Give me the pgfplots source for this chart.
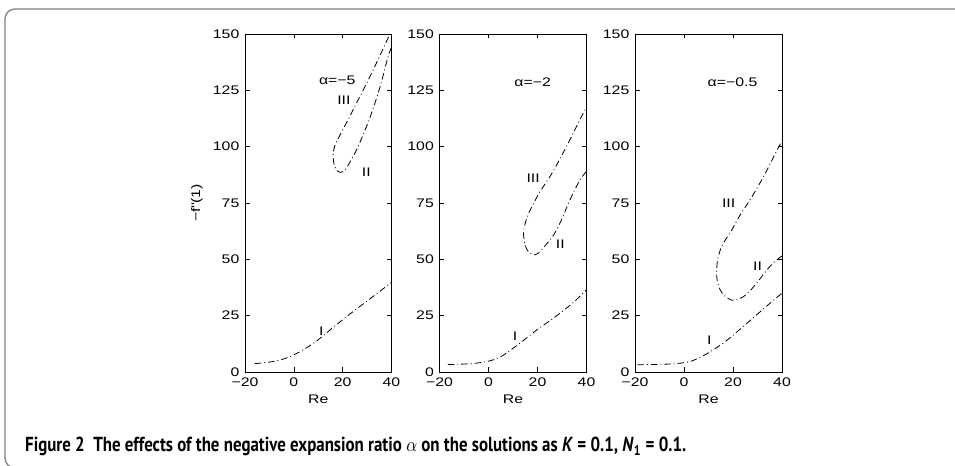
\documentclass[border=0pt]{standalone}
\usepackage{fontspec}
\usepackage{graphicx}
\usepackage{pgfplots}
\pgfplotsset{compat=1.18}
\newfontfamily\axfont[FakeStretch=1.27]{Liberation Sans}
\newfontfamily\capfont{PT Sans}
\newcommand\axf{\axfont\fontsize{12.5}{14}\selectfont}
\tikzset{
  lab/.style={font=\axf, inner sep=0pt, anchor=center},
  cur/.style={black, line width=0.8bp, dash pattern=on 6.5bp off 3bp on 0.9bp off 3bp, smooth, tension=0.5, mark=none},
}
\pgfplotsset{
  panel/.style={
    scale only axis, width=147bp, height=338bp, anchor=south west,
    xmin=-20, xmax=40, ymin=0, ymax=150,
    xtick={-20,0,20,40}, xticklabels={−20,0,20,40},
    ytick={0,25,50,75,100,125,150}, yticklabels={0,25,50,75,100,125,150},
    tick align=inside, major tick length=4.5bp,
    every tick/.style={black, line width=0.6bp},
    axis line style={black, line width=0.9bp},
    ticklabel style={font=\axf, inner sep=0pt},
    xticklabel style={anchor=north, yshift=-6bp},
    yticklabel style={anchor=east, xshift=-5.5bp},
    xlabel={Re},
    every axis x label/.style={at={(axis description cs:0.5,0)}, anchor=center, yshift=-27bp, font=\axf},
    clip=true,
  },
}
\begin{document}
\begin{tikzpicture}[x=1bp,y=1bp]
\useasboundingbox (0,0) rectangle (955,466);
\clip (0,0) rectangle (955,466);
\draw[black!50, line width=1.3bp, rounded corners=10bp] (970,457) -- (5,457) -- (5,-2) -- (40,-2);

% Panel 1: alpha = -5
\begin{axis}[panel, at={(245bp,94bp)}, width=146.5bp]
\addplot[cur] coordinates {(-16,3.7) (-10,4.4) (-5,5.5) (0,7.6) (5,10.6) (10,14.3) (15,18.8) (20,23.2) (25,27.4) (30,31.5) (35,35.6) (40,39.8)};
\addplot[cur] coordinates {(40,144) (38.6,140) (35.3,126.5) (31.2,113) (26.3,100) (23,93.2) (21,89.6) (19,88.6) (17.6,89.6) (16.4,92.5) (16.1,97) (17,101) (18.6,104.5) (22,111.5) (26,120) (30,128.5) (34,137.5) (38.5,148) (39.3,150)};
\node[lab] at (axis cs:17.8,129.6) {α=−5};
\node[lab] at (axis cs:20.5,120.5) {III};
\node[lab] at (axis cs:29.7,88.5) {II};
\node[lab] at (axis cs:11.3,18) {I};
\end{axis}

% Panel 2: alpha = -2
\begin{axis}[panel, at={(439.5bp,94bp)}]
\addplot[cur] coordinates {(-16.6,3.3) (-7,3.7) (0,4.8) (5,6.8) (10,10.5) (15,14.6) (20,18.9) (25,22.7) (30,26.8) (35,31.2) (40,36.5)};
\addplot[cur] coordinates {(40,89) (37.3,85.2) (33.2,76.3) (29.8,67.5) (26.4,60.5) (22.5,55.3) (20,52.5) (18.2,52) (16.2,53.5) (14.9,56.5) (14.3,61.5) (15,66) (16.4,70.4) (18.5,75) (21,80) (26.3,88.9) (32.5,101.5) (37.3,112) (40,117.5)};
\node[lab] at (axis cs:18,128.8) {α=−2};
\node[lab] at (axis cs:18.2,86) {III};
\node[lab] at (axis cs:29.3,56.5) {II};
\node[lab] at (axis cs:10.8,16) {I};
\end{axis}

% Panel 3: alpha = -0.5
\begin{axis}[panel, at={(635bp,94bp)}]
\addplot[cur] coordinates {(-19,3.2) (-10,3.4) (-5,3.6) (0,4.1) (3,4.8) (6,6.2) (9,7.9) (12,9.9) (16,12.8) (20,16.3) (25,21) (30,25.7) (35,30.4) (40,35)};
\addplot[cur] coordinates {(40,51.5) (37,49) (34,45.5) (31.5,42) (29,38.6) (26.5,35.5) (24.2,33.4) (22,32.2) (20.1,31.8) (18.4,32.4) (16.4,34) (14.7,36.6) (13.6,40.3) (13.3,44.5) (13.7,49.7) (14.6,53.5) (16,57.1) (19.5,63) (22.9,69.7) (26.9,76.3) (31.7,85.2) (35,92) (37.5,97.5) (40,102.5)};
\node[lab] at (axis cs:19.8,128.8) {α=−0.5};
\node[lab] at (axis cs:18.2,75) {III};
\node[lab] at (axis cs:30,47) {II};
\node[lab] at (axis cs:10.3,14) {I};
\end{axis}

\node[rotate=90, font=\axf, inner sep=0pt] at (197,263) {−f\textquotesingle\textquotesingle(1)};

\node[anchor=base west, inner sep=0pt] at (25,14) {\resizebox{661bp}{14.5bp}{\capfont\bfseries Figure 2\hspace{0.5em}The effects of the negative expansion ratio $\alpha$ on the solutions as \textit{K} = 0.1, \textit{N}\textsubscript{1} = 0.1.}};
\end{tikzpicture}
\end{document}
